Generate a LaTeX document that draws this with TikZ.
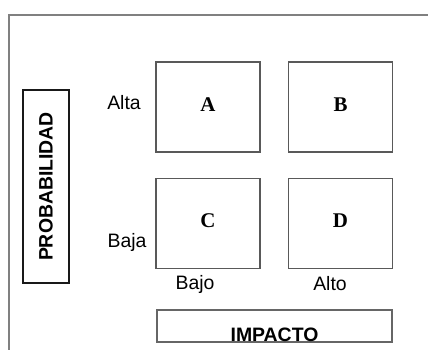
\documentclass[tikz,border=0pt]{standalone}
\usepackage{fontspec}
\setmainfont{Liberation Sans}
\newfontfamily\letterfont{Liberation Serif}
\usetikzlibrary{positioning, calc}
\tikzset{node distance = 3cm, on grid,
         frame/.style = {draw = black!50, line width = 2bp},
         cell/.style = {draw = black!65, line width = 1.5bp,
                        minimum width = 104bp, minimum height = 90bp,
                        text depth = 5bp,
                        font = \letterfont\bfseries\fontsize{21}{24}\selectfont},
         axis text/.style = {font = \fontsize{19.5}{22}\selectfont},
         title box/.style = {line width = 2bp, inner sep = 0pt,
                             font = \bfseries\fontsize{19.5}{22}\selectfont}}

\begin{document}
\begin{tikzpicture}[x = 1bp, y = 1bp]
        \useasboundingbox (0,0) rectangle (428,350);
        \draw[frame] (428,335) -- (9,335) -- (9,0);

        \node[cell]   (a)                               at (208,243) {A};
        \node[cell]   (b) [right = 132.5bp of a]                     {B};
        \node[cell]   (c) [below = 116.5bp of a]                     {C};
        \node[cell]   (d) [right = 132.5bp of c]                     {D};

        \node[axis text] (alta) [above left = 4bp and 84bp of a]     {Alta};
        \node[axis text] (baja) [below left = 18.5bp and 81bp of c]  {Baja};
        \node[axis text] (bajo) [below left = 60.5bp and 13bp of c]  {Bajo};
        \node[axis text] (alto) [below left = 60.5bp and 10.5bp of d] {Alto};

        % the word sits low, on the bottom edge of its box
        \node[title box, draw = black!60, minimum width = 235bp,
              text height = 31bp, text depth = 0.5bp, anchor = south]
              (imp)                             at (274.5,7)         {IMPACTO};
        \node[title box, draw = black!90, rotate = 90,
              minimum width = 193bp, minimum height = 46bp]
              (prob)                            at (46,163.5)        {PROBABILIDAD};
\end{tikzpicture}
\end{document}
